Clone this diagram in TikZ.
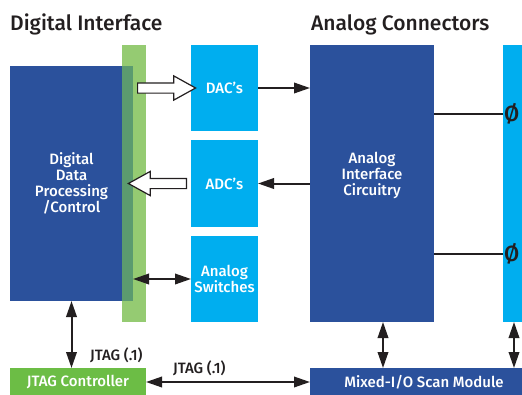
\documentclass[tikz,border=0pt]{standalone}
\usepackage{fontspec}
\setmainfont{Fira Sans}[UprightFont=* Medium]
\usetikzlibrary{arrows.meta,shapes.arrows,calc}
\definecolor{dkblue}{HTML}{2B519C}
\definecolor{ltblue}{HTML}{00AEEF}
\definecolor{ltgreen}{HTML}{95CB72}
\definecolor{midgreen}{HTML}{5B9B6F}
\definecolor{jtgreen}{HTML}{6CBD45}
\definecolor{ink}{HTML}{231F20}
\tikzset{>/.tip={Triangle[length=16pt,width=10.5pt]}}

\begin{document}
\begin{tikzpicture}[x=1pt,y=-1pt,
  dkbox/.style={fill=dkblue,text=white,inner sep=0pt,outer sep=0pt,anchor=north west,align=center,font=\fontsize{15}{16}\selectfont},
  ltbox/.style={dkbox,fill=ltblue},
  grbox/.style={dkbox,fill=jtgreen},
  hollow/.style={single arrow,draw=ink,fill=white,line width=1.2pt,inner xsep=0pt,inner ysep=4.5pt,single arrow head extend=7pt,single arrow tip angle=58,minimum height=58pt},
  wire/.style={draw=ink,line width=2pt},
  title/.style={anchor=base west,inner sep=0pt,text=ink,font=\fontsize{21}{24}\selectfont},
  jtag/.style={anchor=base west,inner sep=0pt,text=ink,font=\fontsize{15}{16}\selectfont}]
\useasboundingbox (0,0) rectangle (522,394);

\node[title] (dititle) at (10,30) {Digital Interface};
\node[title] (antitle) at (311,30) {Analog Connectors};

\node[dkbox,minimum width=123pt,minimum height=235pt] (dp) at (10,66) {Digital\\Data\\Processing\\/Control};
\node[dkbox,fill=ltgreen,minimum width=24pt,minimum height=277pt] (gb) at (122,45) {};
\node[dkbox,fill=midgreen,minimum width=11pt,minimum height=235pt] (ov) at (122,66) {};

\node[ltbox,minimum width=67pt,minimum height=86pt] (dac) at (191,45) {DAC's};
\node[ltbox,minimum width=67pt,minimum height=87pt] (adc) at (191,140) {ADC's};
\node[ltbox,minimum width=67pt,minimum height=86pt] (sw) at (191,236) {Analog\\Switches};

\node[dkbox,minimum width=124pt,minimum height=277pt] (aic) at (310,45) {};
\node[text=white,align=center,font=\fontsize{15}{16}\selectfont] (aictext) at ($(aic.center)+(0,-8)$) {Analog\\Interface\\Circuitry};
\node[ltbox,minimum width=22pt,minimum height=277pt] (ac) at (503,45) {};
\node[anchor=west,inner sep=0pt,text=ink,font=\fontsize{22}{24}\selectfont] (o1) at (504,114) {Ø};
\node[anchor=west,inner sep=0pt,text=ink,font=\fontsize{22}{24}\selectfont] (o2) at (504,254) {Ø};

\node[grbox,minimum width=136pt,minimum height=28pt] (jc) at (10,368) {JTAG Controller};
\node[dkbox,minimum width=228pt,minimum height=28pt] (sm) at (310,368) {Mixed-I/O Scan Module};

\node[jtag] (jl1) at (90,360) {JTAG (.1)};
\node[jtag] (jl2) at (173,373) {JTAG (.1)};

% hollow bus arrows
\node[hollow] (dacbus) at ($(dac.west -| dp.east)!0.5!(dac.west)$) {};
\node[hollow,shape border rotate=180] (adcbus) at ($(adc.west -| dp.east)!0.5!(adc.west)$) {};

\draw[wire,->] (dac.east) -- (dac.east -| aic.west);
\draw[wire,<-] (adc.east) -- (adc.east -| aic.west);
\draw[wire,<->] (sw.west -| dp.east) -- (sw.west);
\draw[wire] (aic.east |- o1) -- (ac.west |- o1);
\draw[wire] (aic.east |- o2) -- (ac.west |- o2);

\draw[wire,<->] (dp.south) -- (dp.south |- jc.north);
\draw[wire,<->] (jc.east) -- (jc.east -| sm.west);
\draw[wire,<->] ([xshift=11pt]aic.south) -- ([xshift=11pt]aic.south |- sm.north);
\draw[wire,<->] (ac.south) -- (ac.south |- sm.north);
\end{tikzpicture}
\end{document}
